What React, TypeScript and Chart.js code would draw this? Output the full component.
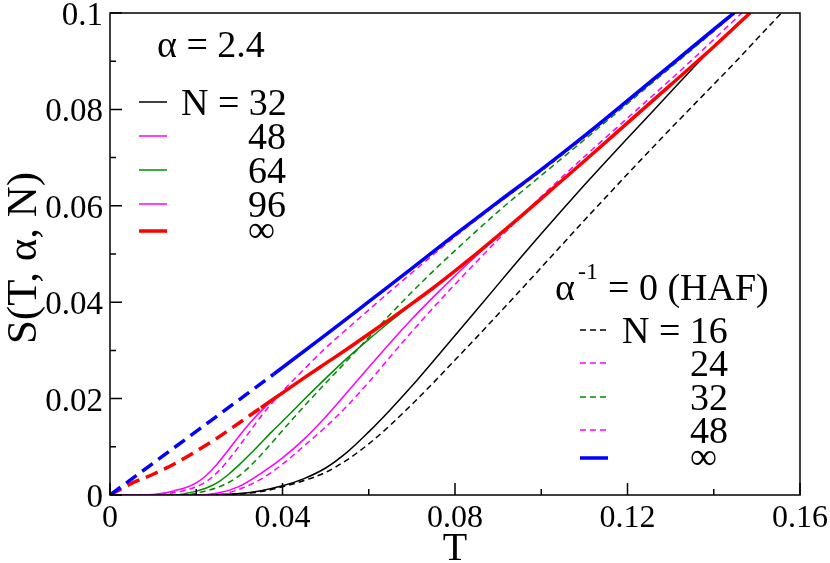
import { useEffect, useRef } from 'react';
import { Chart, registerables } from 'chart.js';

Chart.register(...registerables);

const FONT = "'Times New Roman', serif";
const BASE = 40;

// alpha = 2.4, solid curves
const tA32 = [0, 0.02, 0.025, 0.03, 0.035, 0.04, 0.045, 0.05, 0.055, 0.06, 0.065, 0.07, 0.075, 0.08, 0.085, 0.09, 0.095, 0.1, 0.105, 0.11, 0.115, 0.12, 0.125, 0.13, 0.135, 0.14, 0.1484];
const sA32 = [0, 0, 0.0001, 0.0003, 0.0009, 0.0019, 0.0034, 0.0056, 0.0089, 0.0131, 0.0177, 0.0226, 0.0278, 0.0331, 0.0384, 0.0437, 0.049, 0.0542, 0.0593, 0.0643, 0.0692, 0.074, 0.0788, 0.0836, 0.0884, 0.093, 0.1];
const tA48 = [0, 0.02, 0.025, 0.03, 0.035, 0.04, 0.045, 0.05, 0.055, 0.06, 0.065, 0.07, 0.075, 0.08, 0.085, 0.09, 0.095];
const sA48 = [0, 0, 0.0004, 0.0018, 0.0045, 0.0077, 0.0116, 0.0162, 0.0213, 0.0265, 0.0316, 0.0365, 0.0411, 0.0455, 0.0497, 0.0537, 0.0576];
const tA64 = [0, 0.015, 0.0175, 0.02, 0.0225, 0.025, 0.0275, 0.03, 0.0325, 0.035, 0.0375, 0.04, 0.045, 0.05, 0.055, 0.06, 0.065, 0.07, 0.075];
const sA64 = [0, 0, 0.0003, 0.0008, 0.0015, 0.0026, 0.0043, 0.0063, 0.0085, 0.0108, 0.0131, 0.0153, 0.0198, 0.0242, 0.0284, 0.0323, 0.036, 0.0396, 0.043];
const tA96 = [0, 0.0075, 0.01, 0.0125, 0.015, 0.0175, 0.02, 0.0225, 0.025, 0.0275, 0.03, 0.0325, 0.035, 0.0375, 0.04, 0.045];
const sA96 = [0, 0, 0.0001, 0.0004, 0.0009, 0.0015, 0.0025, 0.0042, 0.0066, 0.0094, 0.0123, 0.015, 0.0174, 0.0195, 0.0212, 0.0243];
const tAInf = [0, 0.005, 0.01, 0.015, 0.02, 0.025, 0.03, 0.035, 0.04, 0.045, 0.05, 0.055, 0.06, 0.065, 0.07, 0.075, 0.08, 0.085, 0.09, 0.095, 0.1, 0.11, 0.12, 0.13, 0.14, 0.1484];
const sAInf = [0, 0.0024, 0.0043, 0.0065, 0.0091, 0.0119, 0.015, 0.0181, 0.0212, 0.0243, 0.0273, 0.0303, 0.0334, 0.0365, 0.0397, 0.043, 0.0465, 0.0501, 0.0538, 0.0576, 0.0615, 0.0693, 0.0772, 0.0851, 0.093, 0.1];

// alpha^-1 = 0 (HAF), dashed curves
const tH16 = [0, 0.025, 0.03, 0.035, 0.04, 0.045, 0.05, 0.055, 0.06, 0.065, 0.07, 0.075, 0.08, 0.085, 0.09, 0.095, 0.1, 0.105, 0.11, 0.115, 0.12, 0.125, 0.13, 0.135, 0.14, 0.145, 0.15, 0.1557];
const sH16 = [0, 0, 0.0002, 0.0007, 0.0017, 0.003, 0.0047, 0.0073, 0.0106, 0.0145, 0.0188, 0.0233, 0.028, 0.0327, 0.0375, 0.0423, 0.0472, 0.0521, 0.057, 0.0618, 0.0666, 0.0713, 0.076, 0.0806, 0.0852, 0.0898, 0.0946, 0.1];
const tH24 = [0, 0.025, 0.03, 0.035, 0.04, 0.045, 0.05, 0.055, 0.06, 0.065, 0.07, 0.075, 0.08, 0.085, 0.09, 0.095, 0.1, 0.105, 0.11, 0.115, 0.12, 0.125, 0.13, 0.135, 0.14, 0.1465];
const sH24 = [0, 0.0001, 0.0012, 0.0033, 0.0064, 0.0102, 0.0141, 0.0185, 0.0234, 0.0287, 0.0339, 0.0389, 0.0437, 0.0484, 0.053, 0.0575, 0.0619, 0.0661, 0.0702, 0.0742, 0.0782, 0.0822, 0.0862, 0.0903, 0.0945, 0.1];
const tH32 = [0, 0.0175, 0.02, 0.0225, 0.025, 0.0275, 0.03, 0.0325, 0.035, 0.0375, 0.04, 0.0425, 0.045, 0.05, 0.055, 0.06, 0.065, 0.07, 0.075, 0.08, 0.085, 0.09, 0.095, 0.1, 0.105, 0.11, 0.12, 0.13, 0.14, 0.145];
const sH32 = [0, 0, 0.0004, 0.0009, 0.0016, 0.0026, 0.004, 0.006, 0.0083, 0.0108, 0.0134, 0.0159, 0.0184, 0.0232, 0.0279, 0.0327, 0.0375, 0.0421, 0.0465, 0.0507, 0.0548, 0.0588, 0.0626, 0.0663, 0.07, 0.0737, 0.0812, 0.0887, 0.0962, 0.1];
const tH48 = [0, 0.01, 0.0125, 0.015, 0.0175, 0.02, 0.0225, 0.025, 0.0275, 0.03, 0.0325, 0.035, 0.0375, 0.04, 0.045, 0.05, 0.055, 0.06, 0.065, 0.07, 0.075, 0.08, 0.09, 0.1, 0.11, 0.12, 0.13, 0.14, 0.145];
const sH48 = [0, 0, 0.0002, 0.0005, 0.001, 0.0017, 0.0029, 0.0048, 0.0073, 0.0102, 0.0133, 0.0163, 0.019, 0.0215, 0.0261, 0.0305, 0.0345, 0.0384, 0.0423, 0.0461, 0.0499, 0.0536, 0.0605, 0.0672, 0.0742, 0.0815, 0.0889, 0.0963, 0.1];
const tHInf = [0, 0.01, 0.02, 0.03, 0.038, 0.05, 0.06, 0.07, 0.08, 0.09, 0.1, 0.11, 0.12, 0.13, 0.14, 0.1447];
const sHInf = [0, 0.0066, 0.0132, 0.0198, 0.0251, 0.0332, 0.0401, 0.047, 0.054, 0.0608, 0.0675, 0.0745, 0.0818, 0.0892, 0.0966, 0.1];

// where the thick infinite-size curves switch from dashed to solid
const hafInfDashEnd = 0.038;
const alphaInfDashEnd = 0.035;

const xTickLabels = ['0', '0.04', '0.08', '0.12', '0.16'];
const yTickLabels = ['0', '0.02', '0.04', '0.06', '0.08', '0.1'];

const alphaLegend = ['N = 32', '48', '64', '96', '\u221e'];
const hafLegend = ['N = 16', '24', '32', '48', '\u221e'];

const MAGENTA = '#ff00ff';
const GREEN = '#008b00';
const THIN_DASH = [6, 4];
const THICK_DASH = [13, 7];

const alphaStyles = [
  { color: '#000000', width: 1.5 },
  { color: MAGENTA, width: 1.5 },
  { color: GREEN, width: 1.5 },
  { color: MAGENTA, width: 1.5 },
  { color: '#ff0000', width: 3.5 },
];
const hafStyles = [
  { color: '#000000', width: 1.5, dash: THIN_DASH },
  { color: MAGENTA, width: 1.5, dash: THIN_DASH },
  { color: GREEN, width: 1.5, dash: THIN_DASH },
  { color: MAGENTA, width: 1.5, dash: THIN_DASH },
  { color: '#0000ff', width: 3.5, dash: [] as number[] },
];

function series(xs: number[], ys: number[], color: string, width: number, dash: number[], dashEnd?: number) {
  return {
    data: xs.map((x, i) => ({ x, y: ys[i] })),
    borderColor: color,
    borderWidth: width,
    borderDash: dash,
    pointRadius: 0,
    fill: false,
    cubicInterpolationMode: 'monotone' as const,
    segment: dashEnd === undefined ? undefined : {
      borderDash: (c: any) => (c.p1.parsed.x <= dashEnd + 1e-9 ? THICK_DASH : []),
    },
  };
}

function drawText(ctx: CanvasRenderingContext2D, str: string, x: number, y: number, size: number, align: CanvasTextAlign = 'left', rotate = 0) {
  ctx.save();
  ctx.translate(x, y);
  if (rotate) ctx.rotate(rotate);
  ctx.scale(size / BASE, size / BASE);
  ctx.font = `${BASE}px ${FONT}`;
  ctx.textAlign = align;
  ctx.textBaseline = 'alphabetic';
  ctx.fillStyle = '#000';
  ctx.fillText(str, 0, 0);
  ctx.restore();
}

const decorPlugin = {
  id: 'decor',
  afterDatasetsDraw(chart: any) {
    const { ctx, chartArea: a, scales } = chart;
    ctx.save();
    ctx.strokeStyle = '#000';
    ctx.lineWidth = 1.5;
    ctx.setLineDash([]);
    ctx.strokeRect(a.left, a.top, a.right - a.left, a.bottom - a.top);
    // inward ticks on bottom and left axes, labels beside the major ones
    ctx.beginPath();
    scales.x.ticks.forEach((t: any) => {
      const px = scales.x.getPixelForValue(t.value);
      const len = t.label ? 12 : 6;
      ctx.moveTo(px, a.bottom);
      ctx.lineTo(px, a.bottom - len);
    });
    scales.y.ticks.forEach((t: any) => {
      const py = scales.y.getPixelForValue(t.value);
      const len = t.label ? 12 : 6;
      ctx.moveTo(a.left, py);
      ctx.lineTo(a.left + len, py);
    });
    ctx.stroke();
    scales.x.ticks.forEach((t: any) => {
      if (t.label) drawText(ctx, t.label, scales.x.getPixelForValue(t.value), a.bottom + 32, 32, 'center');
    });
    scales.y.ticks.forEach((t: any) => {
      if (t.label) drawText(ctx, t.label, a.left - 7, scales.y.getPixelForValue(t.value) + 12, 33, 'right');
    });

    // axis titles
    drawText(ctx, 'T', (a.left + a.right) / 2, 560, 40, 'center');
    drawText(ctx, 'S(T, \u03b1, N)', 36, 258, 43, 'center', -Math.PI / 2);

    // legend: alpha = 2.4
    drawText(ctx, '\u03b1 = 2.4', 157, 57, 38);
    const rowsA = [102, 136, 170, 204, 231];
    alphaLegend.forEach((label, i) => {
      const st = alphaStyles[i];
      ctx.strokeStyle = st.color;
      ctx.lineWidth = st.width;
      ctx.setLineDash([]);
      ctx.beginPath();
      ctx.moveTo(139, rowsA[i]);
      ctx.lineTo(167, rowsA[i]);
      ctx.stroke();
      drawText(ctx, label, i === 0 ? 181 : 248, rowsA[i] + (i === 4 ? 11 : 13), 38);
    });

    // legend: HAF
    drawText(ctx, '\u03b1', 555, 300, 38);
    drawText(ctx, '-1', 578, 279, 24);
    drawText(ctx, '= 0 (HAF)', 608, 300, 38);
    const rowsH = [330, 363, 397, 430, 458];
    hafLegend.forEach((label, i) => {
      const st = hafStyles[i];
      ctx.strokeStyle = st.color;
      ctx.lineWidth = st.width;
      ctx.setLineDash(st.dash);
      ctx.beginPath();
      ctx.moveTo(580, rowsH[i]);
      ctx.lineTo(608, rowsH[i]);
      ctx.stroke();
      drawText(ctx, label, i === 0 ? 622 : 690, rowsH[i] + (i === 4 ? 11 : 13), 38);
    });
    ctx.restore();
  },
};

export default function App() {
  const canvasRef = useRef<HTMLCanvasElement>(null);

  useEffect(() => {
    document.body.style.margin = '0';
    if (!canvasRef.current) return;

    const chart = new Chart(canvasRef.current, {
      type: 'line',
      data: {
        datasets: [
          series(tHInf, sHInf, '#0000ff', 3.5, [], hafInfDashEnd),
          series(tAInf, sAInf, '#ff0000', 3.5, [], alphaInfDashEnd),
          series(tH48, sH48, MAGENTA, 1.5, THIN_DASH),
          series(tH32, sH32, GREEN, 1.5, THIN_DASH),
          series(tH24, sH24, MAGENTA, 1.5, THIN_DASH),
          series(tH16, sH16, '#000000', 1.5, THIN_DASH),
          series(tA96, sA96, MAGENTA, 1.5, []),
          series(tA64, sA64, GREEN, 1.5, []),
          series(tA48, sA48, MAGENTA, 1.5, []),
          series(tA32, sA32, '#000000', 1.5, []),
        ] as any,
      },
      options: {
        responsive: true,
        maintainAspectRatio: false,
        animation: false,
        layout: { padding: { top: 13, right: 30, left: 0, bottom: 0 } },
        plugins: {
          legend: { display: false },
          tooltip: { enabled: false },
        },
        scales: {
          x: {
            type: 'linear',
            min: 0,
            max: 0.16,
            afterFit: (s: any) => {
              s.height = 68;
              s.paddingLeft = 0;
              s.paddingRight = 0;
            },
            grid: { display: false, drawTicks: false },
            border: { display: false },
            ticks: {
              display: false,
              stepSize: 0.02,
              autoSkip: false,
              callback: (value: any) => {
                const v = Math.round(Number(value) * 100);
                return v % 4 === 0 ? xTickLabels[v / 4] : '';
              },
            },
          },
          y: {
            type: 'linear',
            min: 0,
            max: 0.1,
            afterFit: (s: any) => {
              s.width = 110;
              s.paddingTop = 0;
              s.paddingBottom = 0;
            },
            grid: { display: false, drawTicks: false },
            border: { display: false },
            ticks: {
              display: false,
              stepSize: 0.01,
              autoSkip: false,
              callback: (value: any) => {
                const v = Math.round(Number(value) * 100);
                return v % 2 === 0 ? yTickLabels[v / 2] : '';
              },
            },
          },
        },
      },
      plugins: [decorPlugin],
    });

    return () => chart.destroy();
  }, []);

  return (
    <div style={{ width: 830, height: 563, position: 'relative' }}>
      <canvas ref={canvasRef}></canvas>
    </div>
  );
}
